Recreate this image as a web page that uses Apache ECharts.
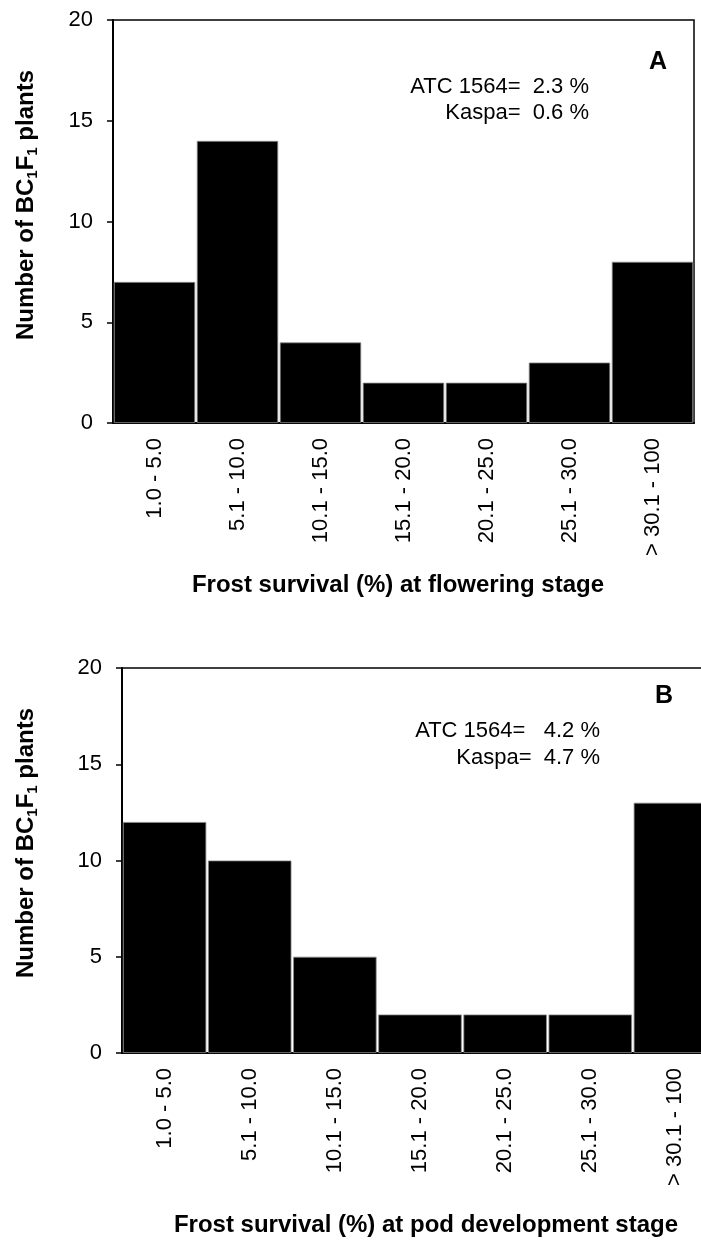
<!DOCTYPE html>
<html>
<head>
<meta charset="utf-8">
<script src="https://cdn.jsdelivr.net/npm/echarts@6/dist/echarts.min.js"></script>
<style>
html,body{margin:0;padding:0;background:#fff;}
#c{width:701px;height:1241px;}
</style>
</head>
<body>
<div id="c"></div>
<script>
const categories = ['1.0 - 5.0','5.1 - 10.0','10.1 - 15.0','15.1 - 20.0','20.1 - 25.0','25.1 - 30.0','> 30.1 - 100'];
const valuesA = [7, 14, 4, 2, 2, 3, 8];
const valuesB = [12, 10, 5, 2, 2, 2, 13];
const yTicks = {min: 0, max: 20, interval: 5};
const titleA = 'Frost survival (%) at flowering stage';
const titleB = 'Frost survival (%) at pod development stage';
const notesA = ['ATC 1564=  2.3 %', 'Kaspa=  0.6 %'];
const notesB = ['ATC 1564=   4.2 %', 'Kaspa=  4.7 %'];

const FF = '"Liberation Sans", Arial, sans-serif';
const chart = echarts.init(document.getElementById('c'), null, {renderer: 'canvas'});

function xAxis(gi) {
  return {
    type: 'category', gridIndex: gi, data: categories,
    axisLine: {show: true, lineStyle: {color: '#000', width: 2}},
    axisTick: {show: false},
    axisLabel: {rotate: 90, margin: 15, interval: 0, color: '#000', fontSize: 22, fontFamily: FF},
    splitLine: {show: false}
  };
}
function yAxis(gi) {
  return {
    type: 'value', gridIndex: gi, min: yTicks.min, max: yTicks.max, interval: yTicks.interval,
    axisLine: {show: true, lineStyle: {color: '#000', width: 2}},
    axisTick: {show: true, length: 6, lineStyle: {color: '#000', width: 1.5}},
    axisLabel: {margin: 20, color: '#000', fontSize: 22, fontFamily: FF},
    splitLine: {show: false}
  };
}
function bars(gi, vals) {
  return {
    type: 'bar', xAxisIndex: gi, yAxisIndex: gi, data: vals,
    barCategoryGap: '2%',
    itemStyle: {color: '#000', borderColor: '#8a8a8a', borderWidth: 0.8},
    silent: true, animation: false
  };
}
const richY = {
  b: {fontSize: 24, fontWeight: 'bold', fontFamily: FF, color: '#000', lineHeight: 28},
  s: {fontSize: 15, fontWeight: 'bold', fontFamily: FF, color: '#000', lineHeight: 28, verticalAlign: 'bottom'}
};
const yTitle = '{b|Number of BC}{s|1}{b|F}{s|1}{b| plants}';

function txt(x, y, text, opts) {
  return {type: 'text', x: x, y: y, rotation: opts.rot || 0, silent: true,
    style: Object.assign({text: text, fill: '#000', font: (opts.bold ? 'bold ' : '') + opts.size + 'px ' + FF,
      textAlign: opts.align || 'center', textVerticalAlign: 'middle'}, opts.rich ? {rich: opts.rich} : {})};
}

chart.setOption({
  animation: false,
  backgroundColor: '#fff',
  grid: [
    {left: 113, top: 20, width: 581, height: 403, show: true, borderColor: '#000', borderWidth: 1.5, containLabel: false, outerBoundsMode: 'none'},
    {left: 122, top: 668, width: 596, height: 385, show: true, borderColor: '#000', borderWidth: 1.5, containLabel: false, outerBoundsMode: 'none'}
  ],
  xAxis: [xAxis(0), xAxis(1)],
  yAxis: [yAxis(0), yAxis(1)],
  series: [bars(0, valuesA), bars(1, valuesB)],
  graphic: [
    txt(26, 205, yTitle, {rot: Math.PI/2, size: 24, bold: true, rich: richY}),
    txt(26, 843, yTitle, {rot: Math.PI/2, size: 24, bold: true, rich: richY}),
    txt(398, 585, titleA, {size: 24, bold: true}),
    txt(426, 1225, titleB, {size: 24, bold: true}),
    txt(589, 87, notesA[0], {size: 22, align: 'right'}),
    txt(589, 113, notesA[1], {size: 22, align: 'right'}),
    txt(600, 731, notesB[0], {size: 22, align: 'right'}),
    txt(600, 758, notesB[1], {size: 22, align: 'right'}),
    txt(658, 62, 'A', {size: 25, bold: true}),
    txt(664, 696, 'B', {size: 25, bold: true})
  ]
});
</script>
</body>
</html>
